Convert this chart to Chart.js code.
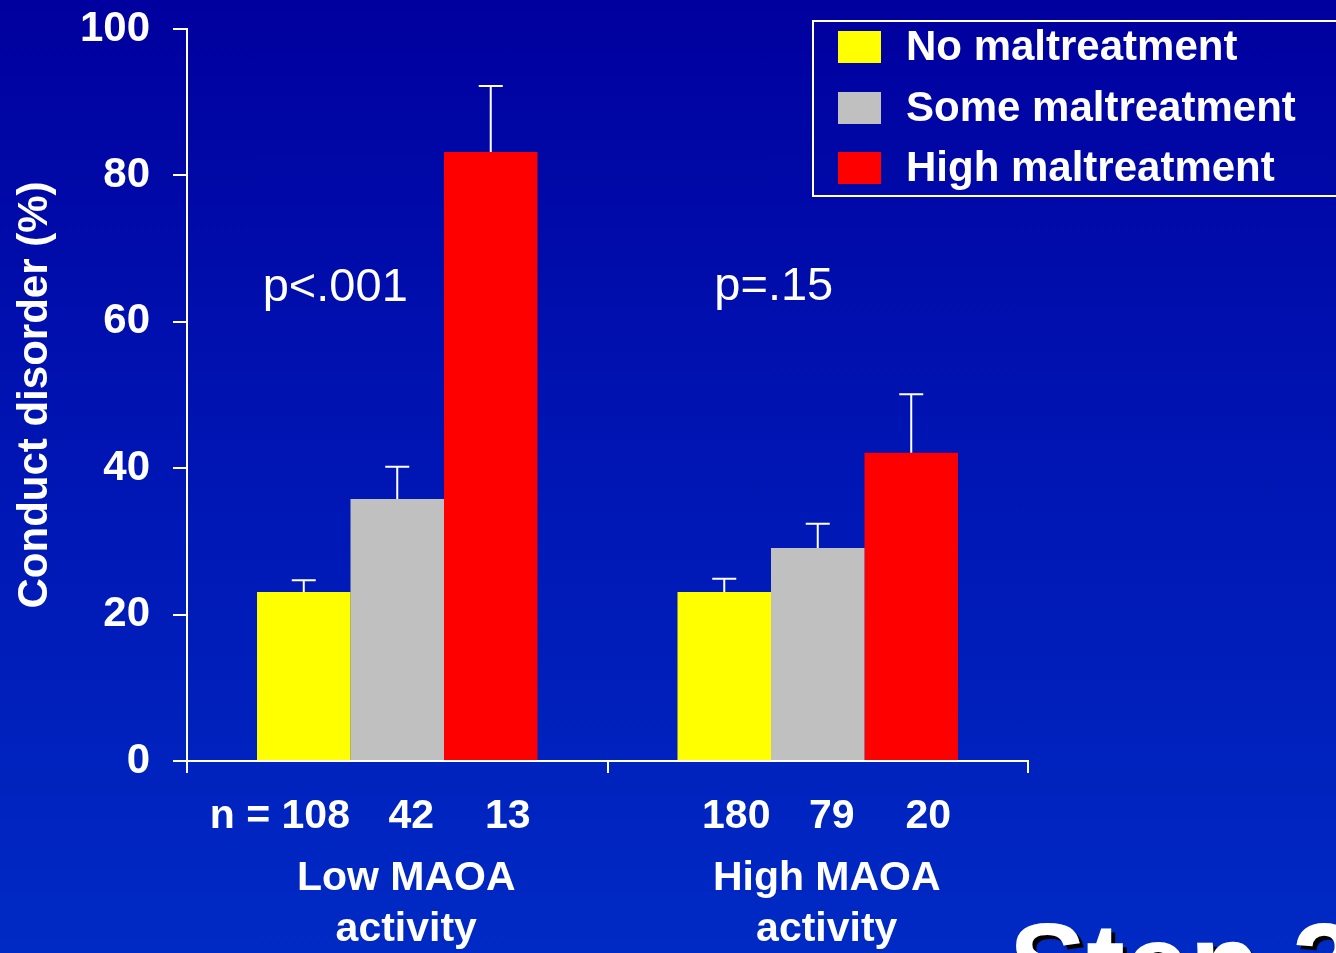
<!DOCTYPE html>
<html>
<head>
<meta charset="utf-8">
<script src="https://cdn.jsdelivr.net/npm/chart.js@4/dist/chart.umd.min.js"></script>
<style>
  html, body { margin: 0; padding: 0; width: 1336px; height: 953px; overflow: hidden; }
  body { background: linear-gradient(to bottom, #00009e 0%, #0014b2 45%, #002ac4 100%); position: relative; font-family: 'Liberation Sans', Arial, sans-serif; }
  #c { position: absolute; left: 0; top: 0; }
  #step { position: absolute; left: 1009px; top: 907px; font-size: 116px; line-height: 116px; font-weight: bold; color: #fff; text-shadow: 4px 4px 0 #000; white-space: nowrap; }
</style>
</head>
<body>
<canvas id="c" width="1336" height="953"></canvas>
<div id="step">Step 3</div>
<script>
// ---- data ----
const categories = [['Low MAOA', 'activity'], ['High MAOA', 'activity']];
const seriesNames = ['No maltreatment', 'Some maltreatment', 'High maltreatment'];
const noMaltreatment = [23.1, 23.1];
const someMaltreatment = [35.8, 29.1];
const highMaltreatment = [83.2, 42.1];
const noUpper = [24.7, 24.9];
const someUpper = [40.2, 32.4];
const highUpper = [92.2, 50.1];
const noN = [108, 180];
const someN = [42, 79];
const highN = [13, 20];
const pValues = ['p<.001', 'p=.15'];
const pLevel = [64.6, 64.8];
const yTicks = [0, 20, 40, 60, 80, 100];

const FONT = "'Liberation Sans', Arial, sans-serif";
const colors = ['#ffff00', '#c0c0c0', '#ff0000'];
const uppers = [noUpper, someUpper, highUpper];
const counts = [noN, someN, highN];

const extras = {
  id: 'extras',
  afterDatasetsDraw(chart) {
    const ctx = chart.ctx;
    const y = chart.scales.y;
    const x = chart.scales.x;
    ctx.save();
    // error bars
    ctx.strokeStyle = '#ffffff';
    ctx.lineWidth = 2;
    chart.data.datasets.forEach((ds, i) => {
      const meta = chart.getDatasetMeta(i);
      meta.data.forEach((bar, j) => {
        const top = y.getPixelForValue(uppers[i][j]);
        ctx.beginPath();
        ctx.moveTo(bar.x, bar.y);
        ctx.lineTo(bar.x, top);
        ctx.moveTo(bar.x - 12, top);
        ctx.lineTo(bar.x + 12, top);
        ctx.stroke();
      });
    });
    // n labels
    ctx.fillStyle = '#ffffff';
    ctx.font = 'bold 41px ' + FONT;
    ctx.textBaseline = 'middle';
    const nDx = [12, 14, 17];
    chart.data.datasets.forEach((ds, i) => {
      const meta = chart.getDatasetMeta(i);
      meta.data.forEach((bar, j) => {
        const txt = String(counts[i][j]);
        const cx = bar.x + nDx[i];
        ctx.textAlign = 'center';
        ctx.fillText(txt, cx, 817);
        if (i === 0 && j === 0) {
          ctx.textAlign = 'right';
          ctx.fillText('n = ', cx - ctx.measureText(txt).width / 2, 817);
        }
      });
    });
    // p values
    ctx.font = '47px ' + FONT;
    ctx.textAlign = 'center';
    const pDx = [-62, -44];
    pValues.forEach((p, j) => {
      ctx.fillText(p, x.getPixelForValue(j) + pDx[j], y.getPixelForValue(pLevel[j]));
    });
    ctx.restore();
  },
  afterDraw(chart) {
    const ctx = chart.ctx;
    ctx.save();
    ctx.strokeStyle = '#ffffff';
    ctx.lineWidth = 2;
    ctx.strokeRect(813, 21, 540, 175);
    ctx.font = 'bold 42px ' + FONT;
    ctx.textBaseline = 'middle';
    ctx.textAlign = 'left';
    const rows = [47, 108, 168];
    chart.data.datasets.forEach((ds, i) => {
      ctx.fillStyle = ds.backgroundColor;
      ctx.fillRect(838, rows[i] - 16, 43, 32);
      ctx.fillStyle = '#ffffff';
      ctx.fillText(ds.label, 906, rows[i] + 1);
    });
    ctx.restore();
  }
};

new Chart(document.getElementById('c'), {
  type: 'bar',
  data: {
    labels: categories,
    datasets: [
      { label: seriesNames[0], data: noMaltreatment, backgroundColor: colors[0] },
      { label: seriesNames[1], data: someMaltreatment, backgroundColor: colors[1] },
      { label: seriesNames[2], data: highMaltreatment, backgroundColor: colors[2] }
    ]
  },
  options: {
    responsive: false,
    animation: false,
    devicePixelRatio: 1,
    layout: { padding: { left: 0, top: 29, right: 308, bottom: 0 } },
    datasets: { bar: { categoryPercentage: 0.667, barPercentage: 1.0, borderWidth: 0 } },
    plugins: { legend: { display: false }, tooltip: { enabled: false } },
    scales: {
      x: {
        grid: { display: true, offset: true, drawOnChartArea: false, drawTicks: true, tickLength: 12, color: '#ffffff', lineWidth: 2 },
        border: { display: true, color: '#ffffff', width: 2 },
        ticks: { color: '#ffffff', padding: 80, labelOffset: 9, maxRotation: 0, font: { family: FONT, size: 41, weight: 'bold', lineHeight: 1.25 } },
        afterFit: (s) => { s.height = 192; s.paddingLeft = 0; s.paddingRight = 0; }
      },
      y: {
        min: 0, max: 100,
        afterBuildTicks: (s) => { s.ticks = yTicks.map(v => ({ value: v })); },
        grid: { display: true, drawOnChartArea: false, drawTicks: true, tickLength: 14, color: '#ffffff', lineWidth: 2 },
        border: { display: true, color: '#ffffff', width: 2 },
        ticks: { color: '#ffffff', padding: 23, font: { family: FONT, size: 42, weight: 'bold' } },
        title: { display: true, text: 'Conduct disorder (%)', color: '#ffffff', padding: { top: 10, bottom: 0 }, font: { family: FONT, size: 42, weight: 'bold' } },
        afterFit: (s) => { s.width = 187; s.paddingTop = 0; s.paddingBottom = 0; }
      }
    }
  },
  plugins: [extras]
});
</script>
</body>
</html>
